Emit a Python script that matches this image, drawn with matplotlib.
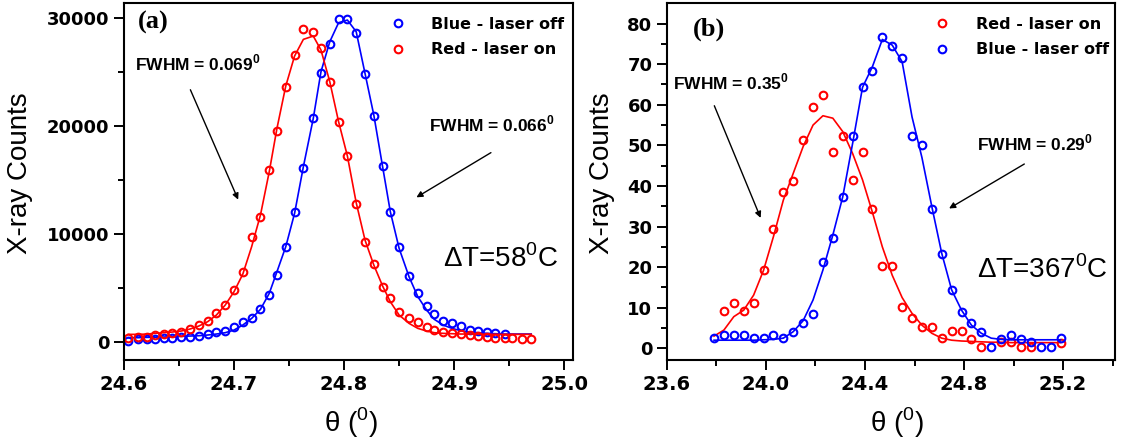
"""
两组 X 射线摇摆曲线: 激光关 (蓝) / 激光开 (红) 的峰位移动与展宽
(a) ΔT=58°C, (b) ΔT=367°C
"""

import matplotlib
matplotlib.use("Agg")
import matplotlib.pyplot as plt

plt.rcParams["font.family"] = ["Liberation Sans", "DejaVu Sans"]
plt.rcParams["mathtext.fontset"] = "custom"
plt.rcParams["mathtext.rm"] = "Liberation Sans"
plt.rcParams["mathtext.bf"] = "Liberation Sans:bold"

# ---------------- (a) ----------------
theta_a = [24.604, 24.613, 24.621, 24.628, 24.636, 24.644, 24.652, 24.660, 24.668, 24.676,
           24.684, 24.692, 24.700, 24.708, 24.716, 24.724, 24.732, 24.739, 24.747, 24.755,
           24.763, 24.772, 24.779, 24.787, 24.795, 24.803, 24.811, 24.819, 24.827, 24.835,
           24.842, 24.850, 24.859, 24.867, 24.875, 24.882, 24.890, 24.898, 24.906, 24.914,
           24.922, 24.930, 24.937, 24.946, 24.953, 24.962, 24.970]

red_a = [356, 387, 449, 604, 666, 759, 913, 1130, 1532, 1903,
         2616, 3389, 4782, 6484, 9672, 11529, 15924, 19576, 23661, 26602,
         28985, 28707, 27282, 24126, 20411, 17224, 12736, 9269, 7165, 5030,
         4070, 2770, 2213, 1780, 1377, 1068, 851, 759, 666, 604,
         511, 387, 356, 294, 294, 232, 201]

blue_a = [77, 232, 232, 232, 294, 356, 387, 449, 542, 666,
          851, 975, 1377, 1841, 2151, 3018, 4318, 6175, 8744, 11993,
          16141, 20783, 24962, 27593, 29944, 29944, 28613, 24807, 20968, 16326,
          12055, 8805, 6082, 4473, 3296, 2553, 1934, 1748, 1470, 1068,
          975, 851, 759, 666]

red_fit_a = [666, 666, 697, 759, 820, 882, 975, 1161, 1439, 1841,
             2460, 3389, 4627, 6268, 8806, 11746, 15770, 19793, 23724, 26510,
             28057, 28366, 27066, 24126, 20411, 17224, 12891, 9424, 7103, 5153,
             3698, 2460, 1686, 1222, 975, 820, 759, 728, 697, 697,
             697, 666, 666, 666, 666, 666, 666]

blue_fit_a = [356, 356, 387, 387, 418, 449, 480, 511, 542, 604,
              697, 820, 1068, 1532, 2151, 2987, 4473, 6484, 8806, 11900,
              16234, 20721, 25054, 27840, 29604, 29851, 28768, 24900, 21031, 16234,
              12055, 8651, 6020, 4163, 2925, 2058, 1532, 1222, 1006, 882,
              820, 759, 728, 697, 697, 697, 697]

# ---------------- (b) ----------------
theta_b = [23.79, 23.83, 23.87, 23.91, 23.95, 23.99, 24.03, 24.07, 24.11, 24.15,
           24.19, 24.23, 24.27, 24.31, 24.35, 24.39, 24.43, 24.47, 24.51, 24.55,
           24.59, 24.63, 24.67, 24.71, 24.75, 24.79, 24.83, 24.87, 24.91, 24.95,
           24.99, 25.03, 25.07, 25.11, 25.15, 25.19]

theta_red_b = [23.83, 23.87, 23.91, 23.95, 23.99, 24.03, 24.07, 24.11, 24.15, 24.19,
               24.23, 24.27, 24.31, 24.35, 24.39, 24.43, 24.47, 24.51, 24.55, 24.59,
               24.63, 24.67, 24.71, 24.75, 24.79, 24.83, 24.87, 24.95, 24.99, 25.03,
               25.07, 25.19]

red_b = [9.2, 11.2, 9.2, 11.2, 19.3, 29.4, 38.4, 41.3, 51.3, 59.5,
         62.4, 48.4, 52.3, 41.4, 48.4, 34.4, 20.3, 20.3, 10.3, 7.4,
         5.2, 5.3, 2.5, 4.3, 4.3, 2.3, 0.4, 1.5, 1.5, 0.4,
         0.4, 1.2]

blue_b = [2.5, 3.3, 3.3, 3.3, 2.5, 2.5, 3.3, 2.5, 4.1, 6.3,
          8.4, 21.2, 27.2, 37.3, 52.3, 64.4, 68.4, 76.7, 74.5, 71.6,
          52.4, 50.2, 34.3, 23.2, 14.4, 9.0, 6.3, 4.1, 0.4, 2.3,
          3.4, 2.3, 1.5, 0.4, 0.4, 2.5]

red_fit_b = [3.0, 4.5, 7.8, 9.4, 13.1, 19.2, 27.5, 36.5, 43.1, 49.7,
             55.0, 57.3, 56.7, 53.4, 48.0, 41.5, 33.5, 25.0, 18.0, 12.5,
             8.6, 5.7, 3.7, 2.5, 2.0, 1.8, 1.7, 1.6, 1.5, 1.5,
             1.4, 1.4, 1.4, 1.4, 1.4, 1.4]

blue_fit_b = [2.0, 2.0, 2.0, 2.0, 2.0, 2.1, 2.2, 2.5, 4.1, 6.8,
              11.9, 19.3, 27.9, 37.3, 50.5, 64.3, 69.4, 76.1, 74.7, 70.6,
              57.0, 47.0, 34.9, 23.4, 14.4, 9.4, 5.7, 3.7, 2.5, 2.2,
              2.1, 2.1, 2.1, 2.1, 2.1, 2.1]

BOLD_WIDE = ["DejaVu Sans"]  # 刻度和图例用较宽的粗体


def style_axes(ax):
    for sp in ax.spines.values():
        sp.set_linewidth(1.5)
    ax.tick_params(which="both", direction="out", top=False, right=False, width=1.4)
    ax.tick_params(which="major", length=7)
    ax.tick_params(which="minor", length=4)
    for lab in ax.get_yticklabels():
        lab.set_fontsize(13)
        lab.set_fontweight("bold")
        lab.set_family(BOLD_WIDE)
    for lab in ax.get_xticklabels():
        lab.set_fontsize(14)
        lab.set_fontweight("bold")
        lab.set_family(BOLD_WIDE)


def draw_series(ax, x, y, xf, yf, color, label):
    ax.plot(xf, yf, "-", color=color, lw=1.2)
    ax.plot(x, y, "o", mfc="none", mec=color, mew=1.5, ms=5.5, ls="none", label=label)


def fwhm_note(ax, text, txy, start, end):
    ax.text(*txy, text, transform=ax.transAxes, fontsize=12.5, fontweight="bold",
            ha="left", va="center")
    ax.annotate("", xy=end, xytext=start, xycoords="axes fraction",
                textcoords="axes fraction",
                arrowprops=dict(arrowstyle="-|>", color="black", lw=1.0,
                                mutation_scale=9))


def main():
    fig = plt.figure(figsize=(11.24, 4.4), dpi=100)
    ax_a = fig.add_axes([0.1103, 0.1807, 0.3995, 0.8136])
    ax_b = fig.add_axes([0.5934, 0.1807, 0.3986, 0.8136])

    # ---- (a) ----
    draw_series(ax_a, theta_a[:len(blue_a)], blue_a, theta_a, blue_fit_a, "blue", "Blue - laser off")
    draw_series(ax_a, theta_a, red_a, theta_a, red_fit_a, "red", "Red - laser on")
    ax_a.set_xlim(24.6, 25.008)
    ax_a.set_ylim(-1760, 31480)
    ax_a.set_xticks([24.6, 24.7, 24.8, 24.9, 25.0])
    ax_a.set_xticklabels(["24.6", "24.7", "24.8", "24.9", "25.0"])
    ax_a.set_xticks([24.65, 24.75, 24.85, 24.95], minor=True)
    ax_a.set_yticks([0, 10000, 20000, 30000])
    ax_a.set_yticks([5000, 15000, 25000], minor=True)
    style_axes(ax_a)

    ax_a.text(0.031, 0.945, "(a)", transform=ax_a.transAxes, fontsize=19,
              fontweight="bold", family="Liberation Serif", ha="left", va="center")
    fwhm_note(ax_a, r"FWHM = 0.069$^\mathbf{0}$", (0.0245, 0.832),
              (0.1454, 0.7634), (0.2568, 0.4422))
    fwhm_note(ax_a, r"FWHM = 0.066$^\mathbf{0}$", (0.679, 0.659),
              (0.8225, 0.5846), (0.6459, 0.4517))
    ax_a.text(0.7105, 0.285, r"ΔT=58$^0$C", transform=ax_a.transAxes, fontsize=20,
              ha="left", va="center")

    # ---- (b) ----
    draw_series(ax_b, theta_red_b, red_b, theta_b, red_fit_b, "red", "Red - laser on")
    draw_series(ax_b, theta_b, blue_b, theta_b, blue_fit_b, "blue", "Blue - laser off")
    ax_b.set_xlim(23.6, 25.41)
    ax_b.set_ylim(-3.0, 85.2)
    ax_b.set_xticks([23.6, 24.0, 24.4, 24.8, 25.2])
    ax_b.set_xticklabels(["23.6", "24.0", "24.4", "24.8", "25.2"])
    ax_b.set_xticks([23.8, 24.2, 24.6, 25.0, 25.4], minor=True)
    ax_b.set_yticks(range(0, 81, 10))
    ax_b.set_yticks(range(5, 80, 10), minor=True)
    style_axes(ax_b)

    ax_b.text(0.058, 0.925, "(b)", transform=ax_b.transAxes, fontsize=19,
              fontweight="bold", family="Liberation Serif", ha="left", va="center")
    fwhm_note(ax_b, r"FWHM = 0.35$^\mathbf{0}$", (0.0134, 0.777),
              (0.1033, 0.7188), (0.2114, 0.3911))
    fwhm_note(ax_b, r"FWHM = 0.29$^\mathbf{0}$", (0.692, 0.608),
              (0.8029, 0.5528), (0.6243, 0.4207))
    ax_b.text(0.692, 0.253, r"ΔT=367$^0$C", transform=ax_b.transAxes, fontsize=20,
              ha="left", va="center")

    # 坐标轴标题与图例
    for ax, ylab_x, xlab_x, leg_x in ((ax_a, -0.203, 0.506, 0.560),
                                      (ax_b, -0.116, 0.513, 0.565)):
        ax.set_ylabel("X-ray Counts", fontsize=20)
        ax.yaxis.set_label_coords(ylab_x, 0.524)
        ax.set_xlabel("θ (${}^0$)", fontsize=20)
        ax.xaxis.set_label_coords(xlab_x, -0.175)
        ax.xaxis.label.set_va("center")
        ax.legend(loc="upper left", bbox_to_anchor=(leg_x, 1.0), frameon=False,
                  handlelength=1.0, handletextpad=1.6, labelspacing=0.65,
                  borderaxespad=0.5, borderpad=0.4,
                  prop={"weight": "bold", "size": 11.5, "family": BOLD_WIDE})

    fig.savefig("out.png", dpi=100)


if __name__ == "__main__":
    main()
